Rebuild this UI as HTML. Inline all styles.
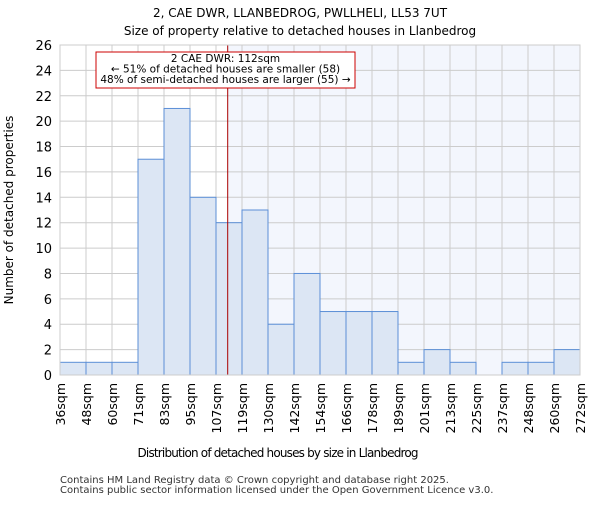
<!DOCTYPE html>
<html><head><meta charset="utf-8"><style>body{margin:0;background:#fff}svg{font-family:"DejaVu Sans","Liberation Sans",sans-serif}</style></head>
<body>
<svg id="c" width="600" height="500" xmlns="http://www.w3.org/2000/svg">
<text x="300" y="17" text-anchor="middle" font-size="12">2, CAE DWR, LLANBEDROG, PWLLHELI, LL53 7UT</text>
<text x="300" y="35" text-anchor="middle" font-size="12">Size of property relative to detached houses in Llanbedrog</text>
<g id="plot"></g>
<text x="278" y="457" text-anchor="middle" font-size="12" textLength="281">Distribution of detached houses by size in Llanbedrog</text>
<text transform="translate(13,210) rotate(-90)" text-anchor="middle" font-size="12">Number of detached properties</text>
<text x="60" y="483" font-size="10" fill="#333">Contains HM Land Registry data © Crown copyright and database right 2025.</text>
<text x="60" y="493" font-size="10" fill="#333">Contains public sector information licensed under the Open Government Licence v3.0.</text>
</svg>
<script>
const categories=["36sqm","48sqm","60sqm","71sqm","83sqm","95sqm","107sqm","119sqm","130sqm","142sqm","154sqm","166sqm","178sqm","189sqm","201sqm","213sqm","225sqm","237sqm","248sqm","260sqm","272sqm"];
const counts=[1,1,1,17,21,14,12,13,4,8,5,5,5,1,2,1,0,1,1,2];
const yTicks=[0,2,4,6,8,10,12,14,16,18,20,22,24,26];
const markerBinPos=6.45;
const L=60,R=580,T=45,B=375,yMax=26;
const bw=(R-L)/counts.length;
const x=i=>L+i*bw, y=v=>B-(B-T)*v/yMax;
const NS="http://www.w3.org/2000/svg";
const g=document.getElementById('plot');
function mk(t,a,p){const e=document.createElementNS(NS,t);for(const k in a)e.setAttribute(k,a[k]);(p||g).appendChild(e);return e;}
const mx=x(markerBinPos);
let e=mk('rect',{x:mx,y:T,width:R-mx,height:B-T,fill:'#f3f6fd'});


yTicks.forEach(v=>{
 let l=mk('line',{x1:L,x2:R,y1:y(v),y2:y(v),stroke:'#ccc','stroke-width':1});
 
 
 let t=mk('text',{x:L-8,y:y(v)+5,'text-anchor':'end','font-size':13});t.textContent=v;
 
 
});
categories.forEach((c,i)=>{
 let l=mk('line',{x1:x(i),x2:x(i),y1:T,y2:B,stroke:'#ccc','stroke-width':1});
 
 
 let t=mk('text',{transform:`translate(${x(i)+5},${B+8}) rotate(-90)`,'text-anchor':'end','font-size':12.5});t.textContent=c;
 
 
});
counts.forEach((v,i)=>{
 if(v<=0)return;
 let r=mk('rect',{x:x(i),y:y(v),width:bw,height:B-y(v),fill:'#dce6f4',stroke:'#5b8fd6','stroke-width':1});
 
 
});
let ml=mk('line',{x1:mx,x2:mx,y1:T,y2:B,stroke:'#aa0000','stroke-width':1});


let ax=mk('rect',{x:L,y:T,width:R-L,height:B-T,fill:'none',stroke:'#ccc'});


const ann=mk('g',{});


mk('rect',{x:96,y:52,width:259,height:36,fill:'#fff',stroke:'#cc0000','stroke-width':1},ann);
["2 CAE DWR: 112sqm","← 51% of detached houses are smaller (58)","48% of semi-detached houses are larger (55) →"].forEach((s,i)=>{
 let t=mk('text',{x:225.5,y:62+i*10.5,'text-anchor':'middle','font-size':10.5},ann);t.textContent=s;
 
 
});
</script>
</body></html>
